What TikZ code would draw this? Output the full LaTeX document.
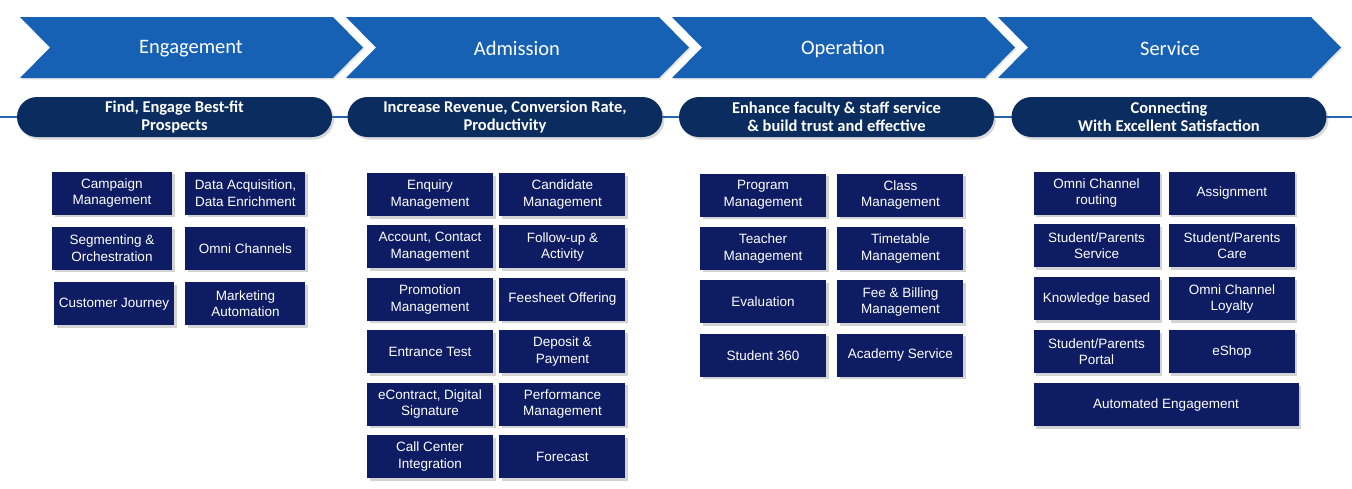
\documentclass[tikz,border=0pt]{standalone}
\usepackage{fontspec}
\setmainfont{Liberation Sans}
\newfontfamily\calibri{Carlito}
\usepackage{xcolor}
\usetikzlibrary{positioning,shadows}
\definecolor{chevblue}{HTML}{1761B5}
\definecolor{pillnavy}{HTML}{0B2C5E}
\definecolor{tilenavy}{HTML}{0E1C63}
\definecolor{lineblue}{HTML}{2463B0}
\tikzstyle{tile} = [fill=tilenavy, text=white, align=center,
    inner xsep=1pt, inner ysep=2pt, minimum width=126pt, minimum height=43pt,
    font=\fontsize{13.5}{16.5}\selectfont,
    drop shadow={shadow xshift=2.5pt, shadow yshift=-2.5pt, opacity=0.35}]
\tikzstyle{pill} = [fill=pillnavy, text=white, align=center,
    rounded corners=20pt, minimum width=315pt, minimum height=40pt,
    font=\calibri\bfseries\fontsize{16.5}{18}\selectfont,
    drop shadow={shadow xshift=2pt, shadow yshift=-2.5pt, opacity=0.3}]
\tikzstyle{chevtitle} = [text=white, font=\calibri\fontsize{20.5}{24}\selectfont]

\begin{document}
\begin{tikzpicture}[x=1pt, y=-1pt]
\useasboundingbox (0,0) rectangle (1352,488);

% stage arrows
\foreach \x in {20,346,672,998}{
    \fill[chevblue, drop shadow={shadow xshift=1.5pt, shadow yshift=-1.5pt, opacity=0.2}]
        (\x,17) -- (\x+313,17) -- (\x+343,47.5) -- (\x+313,78) -- (\x,78) -- (\x+30,47.5) -- cycle;
}
\node[chevtitle] (engage) at (191,48.5) {Engagement};
\node[chevtitle] (admit) at (517,48.5) {Admission};
\node[chevtitle] (operate) at (843,49.5) {Operation};
\node[chevtitle] (serve) at (1170,48.5) {Service};

% goals
\coordinate (lineL) at (0,117);
\coordinate (lineR) at (1352,117);
\draw[lineblue, line width=2pt] (lineL) -- (lineR);
\node[pill] (findpill) at (174.5,117) {Find, Engage Best-fit\\Prospects};
\node[pill] (revpill) at (505,117) {Increase Revenue, Conversion Rate,\\Productivity};
\node[pill] (facpill) at (836.5,117) {Enhance faculty \& staff service\\\& build trust and effective};
\node[pill] (conpill) at (1169,117) {Connecting\\With Excellent Satisfaction};

% engagement
\node[tile, minimum width=120pt] (campaign) at (112,193) {Campaign\\Management};
\node[tile, minimum width=120pt, right=13pt of campaign] (dataacq) {Data Acquisition,\\Data Enrichment};
\node[tile, minimum width=120pt, below=12pt of campaign] (segment) {Segmenting \&\\Orchestration};
\node[tile, minimum width=120pt, below=12pt of dataacq] (omnichan) {Omni Channels};
\node[tile, minimum width=120pt, below=12pt of segment, xshift=2pt] (journey) {Customer Journey};
\node[tile, minimum width=120pt, below=12pt of omnichan] (marketing) {Marketing\\Automation};

% admission
\node[tile] (enquiry) at (430,194.5) {Enquiry\\Management};
\node[tile, right=6pt of enquiry] (candidate) {Candidate\\Management};
\node[tile, below=9pt of enquiry] (account) {Account, Contact\\Management};
\node[tile, below=9pt of candidate] (followup) {Follow-up \&\\Activity};
\node[tile, below=9pt of account] (promotion) {Promotion\\Management};
\node[tile, below=9pt of followup] (feesheet) {Feesheet Offering};
\node[tile, below=9pt of promotion] (entrance) {Entrance Test};
\node[tile, below=9pt of feesheet] (deposit) {Deposit \&\\Payment};
\node[tile, below=9pt of entrance] (econtract) {eContract, Digital\\Signature};
\node[tile, below=9pt of deposit] (performance) {Performance\\Management};
\node[tile, below=9pt of econtract] (callcenter) {Call Center\\Integration};
\node[tile, below=9pt of performance] (forecast) {Forecast};

% operation
\node[tile] (program) at (763,195) {Program\\Management};
\node[tile, right=11pt of program] (class) {Class\\Management};
\node[tile, below=10pt of program] (teacher) {Teacher\\Management};
\node[tile, below=10pt of class] (timetable) {Timetable\\Management};
\node[tile, below=10pt of teacher] (evaluation) {Evaluation};
\node[tile, below=10pt of timetable] (billing) {Fee \& Billing\\Management};
\node[tile, below=10pt of evaluation] (student) {Student 360};
\node[tile, below=10pt of billing] (academy) {Academy Service};

% service
\node[tile] (routing) at (1096.5,193) {Omni Channel\\routing};
\node[tile, right=9pt of routing] (assignment) {Assignment};
\node[tile, below=9.5pt of routing] (spservice) {Student/Parents\\Service};
\node[tile, below=9.5pt of assignment] (spcare) {Student/Parents\\Care};
\node[tile, below=9.5pt of spservice] (knowledge) {Knowledge based};
\node[tile, below=9.5pt of spcare] (loyalty) {Omni Channel\\Loyalty};
\node[tile, below=9.5pt of knowledge] (portal) {Student/Parents\\Portal};
\node[tile, below=9.5pt of loyalty] (eshop) {eShop};
\node[tile, minimum width=265pt, anchor=north west] (automated) at ([yshift=-9.5pt]portal.south west) {Automated Engagement};
\end{tikzpicture}
\end{document}
